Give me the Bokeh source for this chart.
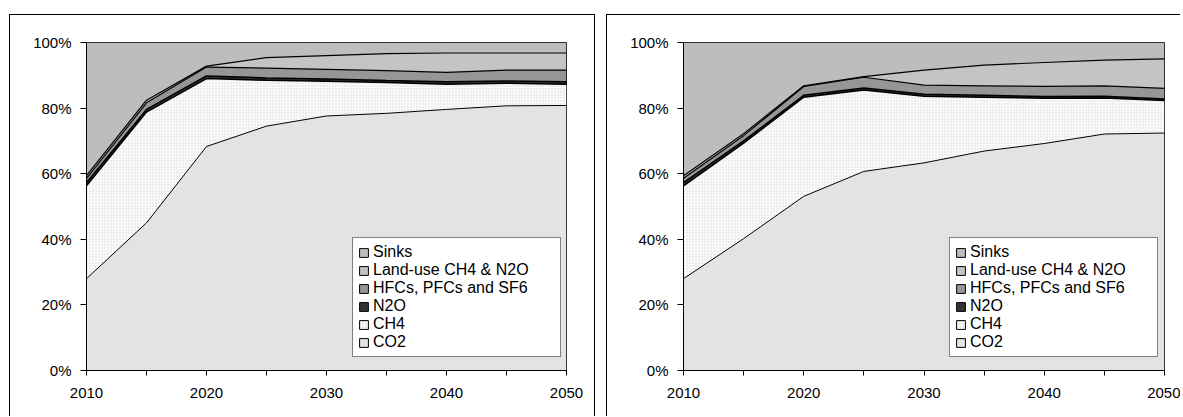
from bokeh.plotting import figure
from bokeh.models import ColumnDataSource, Legend, LegendItem, FixedTicker
from bokeh.layouts import row
from bokeh.transform import stack
from bokeh.embed import file_html
from bokeh.resources import INLINE

years = [2010, 2015, 2020, 2025, 2030, 2035, 2040, 2045, 2050]
x_tick_labels = ["2010", "", "2020", "", "2030", "", "2040", "", "2050"]
y_ticks = [0, 20, 40, 60, 80, 100]
y_tick_labels = ["0%", "20%", "40%", "60%", "80%", "100%"]
series_names = ["CO2", "CH4", "N2O", "HFCs, PFCs and SF6", "Land-use CH4 & N2O", "Sinks"]

# Left panel: shares (%) of each component
left_co2 = [28.0, 45.0, 68.3, 74.5, 77.6, 78.4, 79.6, 80.7, 80.8]
left_ch4 = [28.3, 33.8, 20.7, 14.0, 10.6, 9.4, 7.7, 6.9, 6.5]
left_n2o = [1.0, 0.8, 0.8, 0.7, 0.7, 0.6, 0.7, 0.7, 0.7]
left_hfc = [1.3, 2.0, 2.7, 3.0, 2.9, 3.0, 2.9, 3.3, 3.6]
left_landuse = [0.8, 0.8, 0.3, 3.2, 4.2, 5.2, 5.9, 5.2, 5.2]
left_sinks = [40.6, 17.6, 7.2, 4.6, 4.0, 3.4, 3.2, 3.2, 3.2]

# Right panel
right_co2 = [28.0, 40.2, 53.1, 60.7, 63.3, 66.9, 69.2, 72.1, 72.4]
right_ch4 = [28.3, 29.1, 30.2, 24.8, 20.3, 16.4, 13.8, 11.0, 9.9]
right_n2o = [1.0, 0.7, 0.6, 0.6, 0.6, 0.6, 0.5, 0.5, 0.5]
right_hfc = [1.3, 1.6, 2.7, 3.3, 2.8, 2.9, 3.1, 3.2, 3.2]
right_landuse = [0.8, 0.6, 0.2, 0.2, 4.6, 6.3, 7.3, 7.8, 9.0]
right_sinks = [40.6, 27.8, 13.2, 10.4, 8.4, 6.9, 6.1, 5.4, 5.0]

keys = ["co2", "ch4", "n2o", "hfc", "lu", "sinks"]
fills = ["#E3E3E3", "#FBFBFB", "#333333", "#969696", "#C4C4C4", "#BDBDBD"]
line_widths = [1.0, 1.5, 1.5, 1.2, 1.2]

FONT = "Liberation Sans"
NAN = float("nan")


def make_panel(data, width, min_border_right, borders):
    src = ColumnDataSource(dict(year=years, **{k: v for k, v in zip(keys, data)}))
    p = figure(width=width, height=402, output_backend="svg", toolbar_location=None,
               x_range=(2010, 2050), y_range=(0, 100),
               min_border_left=76, min_border_right=min_border_right,
               min_border_top=27, min_border_bottom=47)
    p.varea_stack(keys, x="year", source=src, fill_color=fills)
    p.varea(x="year", y1=stack("co2"), y2=stack("co2", "ch4"), source=src,
            fill_alpha=0, hatch_pattern=".", hatch_color="#D4D4D4", hatch_scale=3,
            hatch_weight=1)
    p.vline_stack(keys[:5], x="year", source=src, line_color="black",
                  line_width=line_widths)

    p.grid.visible = False
    p.outline_line_color = "black"
    p.background_fill_color = "white"

    p.xaxis.ticker = FixedTicker(ticks=years)
    p.xaxis.major_label_overrides = {y: l for y, l in zip(years, x_tick_labels)}
    p.yaxis.ticker = FixedTicker(ticks=y_ticks)
    p.yaxis.major_label_overrides = {t: l for t, l in zip(y_ticks, y_tick_labels)}
    for ax in (p.xaxis, p.yaxis):
        ax.minor_tick_line_color = None
        ax.axis_line_color = "black"
        ax.major_tick_line_color = "black"
        ax.major_tick_in = 0
        ax.major_label_text_font = FONT
        ax.major_label_text_font_size = "15px"
        ax.major_label_text_color = "black"
    p.xaxis.major_tick_out = 5
    p.yaxis.major_tick_out = 6
    p.xaxis.major_label_standoff = 12
    p.yaxis.major_label_standoff = 9

    # legend proxies (NaN geometry: never drawn in the plot, only in the legend)
    items = []
    for k, name, col in reversed(list(zip(keys, series_names, fills))):
        kw = {}
        if k == "ch4":
            kw = dict(hatch_pattern=".", hatch_color="#C8C8C8", hatch_scale=3)
        r = p.quad(left=[NAN], right=[NAN], top=[NAN], bottom=[NAN], fill_color=col,
                   line_color="black", line_width=1, **kw)
        items.append(LegendItem(label=name, renderers=[r]))
    legend = Legend(items=items, location=(266, 13), padding=5, margin=0,
                    spacing=0, glyph_width=11, glyph_height=11, label_height=16,
                    label_standoff=4, label_width=182,
                    label_text_font=FONT, label_text_font_size="16px",
                    label_text_color="black",
                    border_line_color="black", border_line_width=1,
                    background_fill_color="white", background_fill_alpha=1)
    p.add_layout(legend)
    p.styles = {b: "1px solid black" for b in borders}
    return p


p1 = make_panel([left_co2, left_ch4, left_n2o, left_hfc, left_landuse, left_sinks],
                586, 30, ["border-top", "border-left", "border-right"])
p2 = make_panel([right_co2, right_ch4, right_n2o, right_hfc, right_landuse, right_sinks],
                574, 17, ["border-top", "border-left"])
p1.margin = (14, 0, 0, 9)
p2.margin = (14, 0, 0, 11)

layout = row(p1, p2)
open("out.html", "w").write(file_html(layout, INLINE))
